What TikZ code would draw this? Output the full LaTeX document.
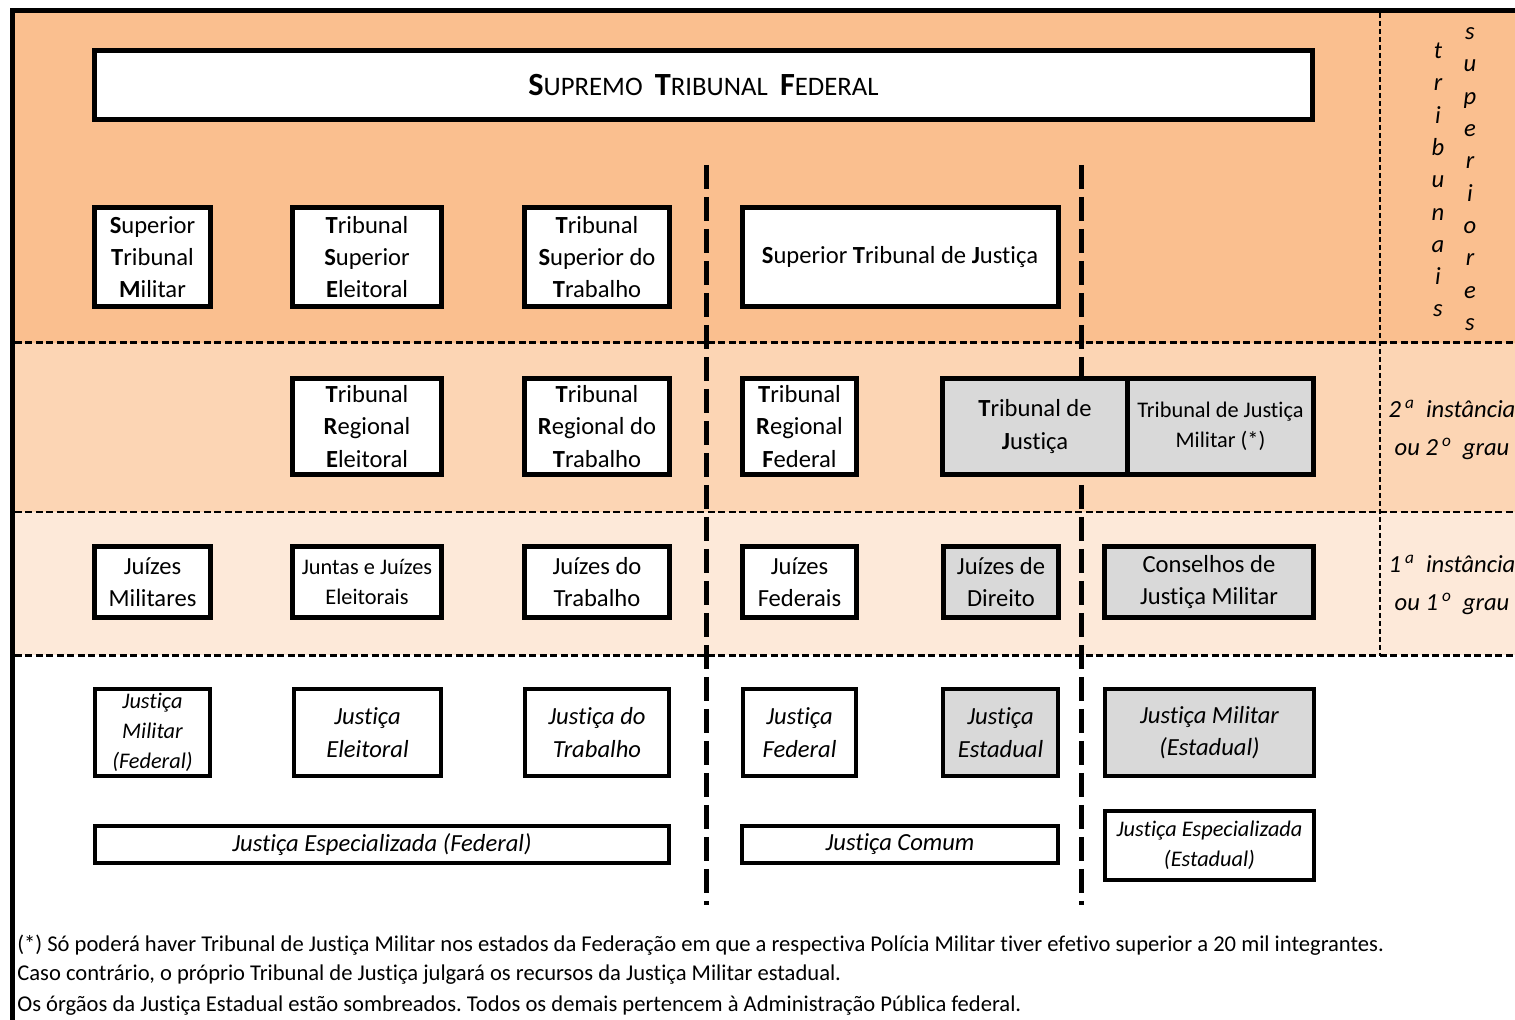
\documentclass[tikz,border=0pt]{standalone}
\usepackage{fontspec}
\setmainfont{Carlito}[Ligatures=CommonOff]
\frenchspacing
\definecolor{bandtop}{HTML}{FABF8F}
\definecolor{bandmid}{HTML}{FCD5B4}
\definecolor{bandlow}{HTML}{FDE9D9}
\definecolor{stategray}{HTML}{D9D9D9}

% box given by the corners of its border line: style, name, x1, y1, x2, y2, text
\newcommand{\placebox}[7]{%
  \node[#1, minimum width={(#5-#3)*0.02cm}, minimum height={(#6-#4)*0.02cm}]
    (#2) at ({(#3+#5)/2},{(#4+#6)/2}) {#7};}

\tikzset{
  court/.style={draw, line width=0.1cm, fill=white, align=center, inner sep=0pt,
    outer sep=0pt, font=\fontsize{14}{18.4}\selectfont},
  smalltext/.style={font=\fontsize{12.7}{17}\selectfont},
  statebox/.style={fill=stategray},
  branch/.style={draw, line width=0.065cm, fill=white, align=center, inner sep=0pt,
    outer sep=0pt, font=\itshape\fontsize{14}{18.4}\selectfont},
  smallitalic/.style={font=\itshape\fontsize{12.7}{17}\selectfont},
  levelrule/.style={line width=0.06cm, dash pattern=on 0.14cm off 0.07cm},
  columnrule/.style={line width=0.1cm, dash pattern=on 0.48cm off 0.16cm},
  marginrule/.style={line width=0.05cm, dash pattern=on 0.11cm off 0.05cm},
  sidenote/.style={font=\itshape\fontsize{14}{18.4}\selectfont, align=center, inner sep=0pt},
  footline/.style={anchor=base west, inner sep=0pt, font=\fontsize{12.85}{15}\selectfont}
}

\begin{document}
\begin{tikzpicture}[x=0.02cm, y=-0.02cm]
\useasboundingbox (0,0) rectangle (1515,1020);

% level bands
\fill[bandtop] (15,13) rectangle (1515,343);
\fill[bandmid] (15,343) rectangle (1515,512);
\fill[bandlow] (15,512) rectangle (1515,655);

% level separators and margin column
\coordinate (l1w) at (15,343);  \coordinate (l1e) at (1515,343);
\coordinate (l2w) at (15,512);  \coordinate (l2e) at (1515,512);
\coordinate (l3w) at (15,655);  \coordinate (l3e) at (1515,655);
\draw[levelrule] (l1w) -- (l1e);
\draw[levelrule] (l2w) -- (l2e);
\draw[levelrule] (l3w) -- (l3e);
\coordinate (mt) at (1380,13);  \coordinate (mb) at (1380,656);
\draw[marginrule] (mt) -- (mb);

% separators between the branches of justice
\coordinate (c1t) at (706,165);  \coordinate (c1b) at (706,905);
\coordinate (c2t) at (1081,165); \coordinate (c2b) at (1081,905);
\draw[columnrule] (c1t) -- (c1b);
\draw[columnrule] (c2t) -- (c2b);

% supreme court
\placebox{court}{stf}{94.5}{50.5}{1312.5}{119.5}{%
  {\bfseries\fontsize{18.4}{20}\selectfont S}{\fontsize{15.2}{18}\selectfont UPREMO}\enspace
  {\bfseries\fontsize{18.4}{20}\selectfont T}{\fontsize{15.2}{18}\selectfont RIBUNAL}\enspace
  {\bfseries\fontsize{18.4}{20}\selectfont F}{\fontsize{15.2}{18}\selectfont EDERAL}}

% superior courts
\placebox{court}{stm}{94.5}{207.5}{210.5}{306.5}{\textbf{S}uperior\\\textbf{T}ribunal\\\textbf{M}ilitar}
\placebox{court}{tse}{292.5}{207.5}{441.5}{306.5}{\textbf{T}ribunal\\\textbf{S}uperior\\\textbf{E}leitoral}
\placebox{court}{tst}{524.5}{207.5}{669.5}{306.5}{\textbf{T}ribunal\\\textbf{S}uperior do\\\textbf{T}rabalho}
\placebox{court}{stj}{742}{207.5}{1058}{306.5}{\textbf{S}uperior \textbf{T}ribunal de \textbf{J}ustiça}

% second instance
\placebox{court}{tre}{292.5}{378.5}{441.5}{474.5}{\textbf{T}ribunal\\\textbf{R}egional\\\textbf{E}leitoral}
\placebox{court}{trt}{524.5}{378.5}{669.5}{474.5}{\textbf{T}ribunal\\\textbf{R}egional do\\\textbf{T}rabalho}
\placebox{court}{trf}{742.5}{378.5}{856.5}{474.5}{\textbf{T}ribunal\\\textbf{R}egional\\\textbf{F}ederal}
\placebox{court,statebox}{tj}{942.5}{378.5}{1127.5}{474.5}{\textbf{T}ribunal de\\\textbf{J}ustiça}
\placebox{court,statebox,smalltext}{tjm}{1127.5}{378.5}{1313.5}{474.5}{Tribunal de Justiça\\Militar (*)}

% first instance
\placebox{court}{jm}{94.5}{546.5}{210.5}{617.5}{Juízes\\Militares}
\placebox{court,smalltext}{jje}{292.5}{546.5}{441.5}{617.5}{Juntas e Juízes\\Eleitorais}
\placebox{court}{jt}{524.5}{546.5}{669.5}{617.5}{Juízes do\\Trabalho}
\placebox{court}{jf}{742.5}{546.5}{856.5}{617.5}{Juízes\\Federais}
\placebox{court,statebox}{jd}{943.5}{546.5}{1058.5}{617.5}{Juízes de\\Direito}
\placebox{court,statebox}{cjm}{1104.5}{546.5}{1313.5}{617.5}{Conselhos de\\Justiça Militar}

% branches of justice
\placebox{branch,smallitalic}{jmf}{95}{689}{210}{776}{Justiça\\Militar\\(Federal)}
\placebox{branch}{jel}{294}{689}{441}{776}{Justiça\\Eleitoral}
\placebox{branch}{jtr}{525}{689}{669}{776}{Justiça do\\Trabalho}
\placebox{branch}{jfe}{743}{689}{856}{776}{Justiça\\Federal}
\placebox{branch,statebox}{jes}{943}{689}{1058}{776}{Justiça\\Estadual}
\placebox{branch,statebox}{jme}{1105}{689}{1314}{776}{Justiça Militar\\(Estadual)}

% groups of branches
\placebox{branch}{jef}{95}{826}{669}{863}{Justiça Especializada (Federal)}
\placebox{branch}{jc}{742}{826}{1058}{863}{Justiça Comum}
\placebox{branch,smallitalic}{jee}{1105}{811}{1314}{880}{Justiça Especializada\\(Estadual)}

% margin labels
\node[sidenote] (trib) at (1438,180) {t\\r\\i\\b\\u\\n\\a\\i\\s};
\node[sidenote] (sup) at (1470,179) {s\\u\\p\\e\\r\\i\\o\\r\\e\\s};
\node[sidenote, font=\itshape\fontsize{14}{21.5}\selectfont] (seg) at (1452,430)
  {2\,\textsuperscript{a}\ \ instância\\ou 2\,\textsuperscript{o}\ \ grau};
\node[sidenote, font=\itshape\fontsize{14}{21.5}\selectfont] (pri) at (1452,585)
  {1\,\textsuperscript{a}\ \ instância\\ou 1\,\textsuperscript{o}\ \ grau};

% notes
\node[footline] (n1) at (17,951) {(*) Só poderá haver Tribunal de Justiça Militar nos estados da Federação em que a respectiva Polícia Militar tiver efetivo superior a 20 mil integrantes.};
\node[footline] (n2) at (17,980) {Caso contrário, o próprio Tribunal de Justiça julgará os recursos da Justiça Militar estadual.};
\node[footline] (n3) at (17,1011) {Os órgãos da Justiça Estadual estão sombreados. Todos os demais pertencem à Administração Pública federal.};

% outer frame: top and left edges
\coordinate (ftl) at (12.5,10.5);
\coordinate (ftr) at (1515,10.5);
\coordinate (fbl) at (12.5,1020);
\draw[line width=0.1cm] (ftr) -- (ftl) -- (fbl);
\end{tikzpicture}
\end{document}
